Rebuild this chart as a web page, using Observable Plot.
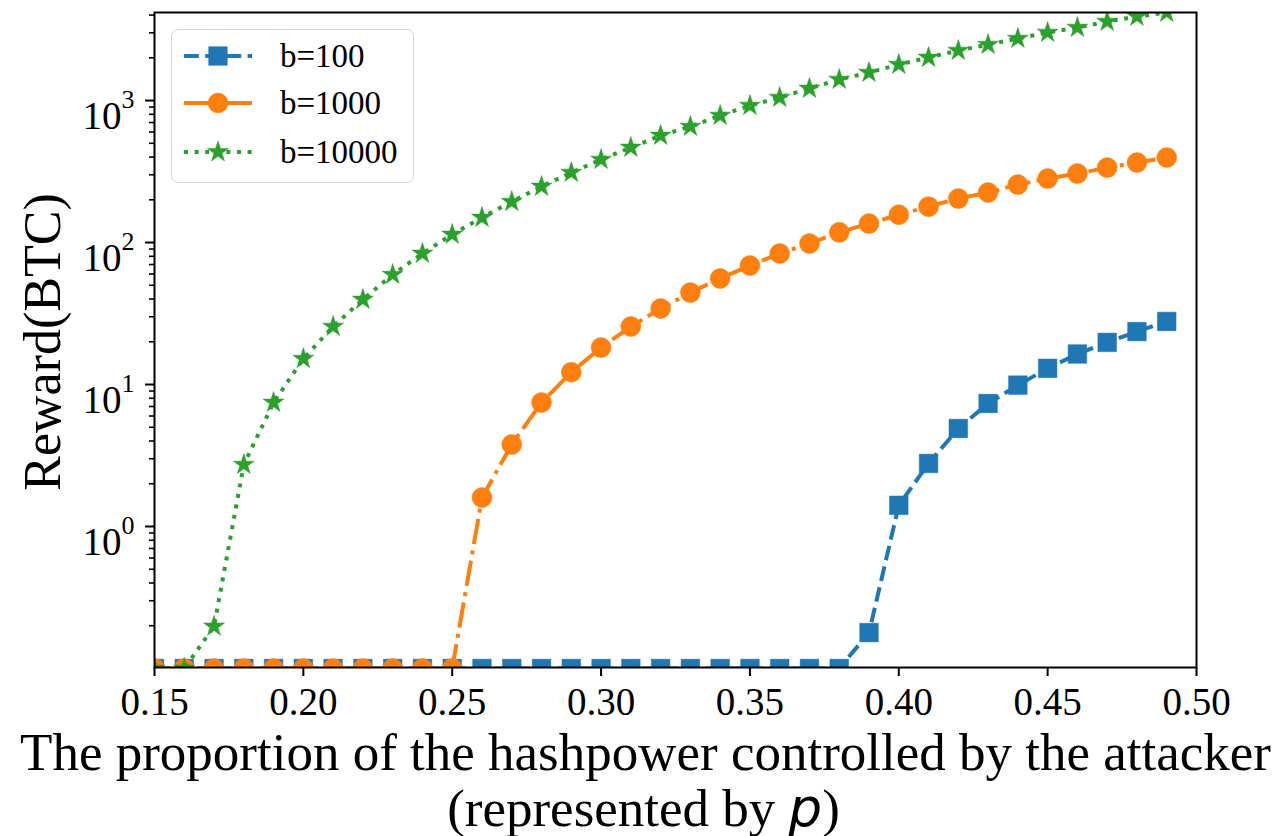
<!DOCTYPE html>
<html>
<head>
<meta charset="utf-8">
<script src="https://cdn.jsdelivr.net/npm/d3@7"></script>
<script src="https://cdn.jsdelivr.net/npm/@observablehq/plot@0.6"></script>
<style>
  html, body { margin: 0; padding: 0; background: #fff; }
  #wrap { position: relative; width: 1279px; height: 836px; }
  #legend { position: absolute; left: 171px; top: 29px; width: 241px; height: 152px;
    border: 1.5px solid #d4d4d4; border-radius: 7px; background: rgba(255,255,255,0.8); }
</style>
</head>
<body>
<div id="wrap"></div>
<script>
// ---- data ----
const p = [0.15,0.16,0.17,0.18,0.19,0.20,0.21,0.22,0.23,0.24,0.25,0.26,0.27,0.28,0.29,0.30,0.31,0.32,0.33,0.34,0.35,0.36,0.37,0.38,0.39,0.40,0.41,0.42,0.43,0.44,0.45,0.46,0.47,0.48,0.49];
// values at the floor of the log axis are drawn at 0.1
const b100 = [0.1,0.1,0.1,0.1,0.1,0.1,0.1,0.1,0.1,0.1,0.1,0.1,0.1,0.1,0.1,0.1,0.1,0.1,0.1,0.1,0.1,0.1,0.1,0.1,
  0.179,1.41,2.78,4.90,7.35,9.9,13.0,16.4,19.8,23.6,27.8];
const b1000 = [0.1,0.1,0.1,0.1,0.1,0.1,0.1,0.1,0.1,0.1,0.1,
  1.60,3.78,7.47,12.2,18.2,25.6,34.3,44.4,55.8,68.9,83.7,98.4,118,136,157,179,204,225,256,282,306,337,366,397];
const b10000 = [0.1,0.1,
  0.198,2.73,7.47,15.2,25.6,39.7,59.5,83.7,114,150,194,248,311,384,467,567,656,784,922,1050,1216,1406,1575,1793,2009,2249,2478,2733,3013,3266,3599,3906,4165];
const seriesNames = ["b=100", "b=1000", "b=10000"];
const xTicks = [0.15,0.20,0.25,0.30,0.35,0.40,0.45,0.50];
const yMajor = [1,10,100,1000];
const xLabelLines = ["The proportion of the hashpower controlled by the attacker", "(represented by p)"];
const yLabel = "Reward(BTC)";

// ---- styles ----
const colors = ["#1f77b4", "#ff7f0e", "#2ca02c"];
const dashes = ["14.8,6.4", "25.6,6.4,4,6.4", "4,6.6"];
const symbols = ["square", "circle", "star"];
const radii = [10.5, 10, 6.6];
const yDomain = [0.1016, 4170];

const yMinor = [];
for (let k = -1; k <= 3; k++) for (let m = 2; m <= 9; m++) {
  const v = m * Math.pow(10, k);
  if (v >= yDomain[0] && v <= yDomain[1]) yMinor.push(v);
}

const rows = vals => p.map((x, i) => ({p: x, v: vals[i]}));
const sets = [rows(b100), rows(b1000), rows(b10000)];

const seriesMarks = [];
sets.forEach((data, i) => {
  seriesMarks.push(Plot.line(data, {x: "p", y: "v", stroke: colors[i], strokeWidth: 4,
    strokeDasharray: dashes[i], strokeLinecap: "butt", strokeLinejoin: "round", clip: true}));
  seriesMarks.push(Plot.dot(data, {x: "p", y: "v", symbol: symbols[i], r: radii[i],
    fill: colors[i], stroke: colors[i], strokeWidth: 0.5, clip: true}));
});

const chart = Plot.plot({
  width: 1279,
  height: 836,
  marginLeft: 154,
  marginRight: 83,
  marginTop: 12,
  marginBottom: 169,
  style: {fontFamily: "Liberation Serif", fontSize: "39px", color: "black", background: "white"},
  x: {domain: [0.15, 0.50]},
  y: {type: "log", domain: yDomain},
  marks: [
    ...seriesMarks,
    Plot.axisX({ticks: xTicks, tickFormat: d3.format(".2f"), tickSize: 9, tickPadding: 11,
      strokeWidth: 2, label: null}),
    Plot.axisY({ticks: yMajor, tickFormat: d => "10^" + Math.round(Math.log10(d)), tickSize: 9,
      tickPadding: 11, strokeWidth: 2, label: null}),
    Plot.axisY({ticks: yMinor, tickFormat: () => "", tickSize: 5, strokeWidth: 1.6, label: null}),
    Plot.frame({stroke: "black", strokeWidth: 2}),
    Plot.text([xLabelLines[0]], {frameAnchor: "bottom", lineAnchor: "bottom", dy: 102, dx: -30,
      fontSize: 53, fontFamily: "Liberation Serif", fill: "black"}),
    Plot.text([xLabelLines[1]], {frameAnchor: "bottom", lineAnchor: "bottom", dy: 158, dx: -32,
      fontSize: 53, fontFamily: "Liberation Serif", fill: "black"}),
    Plot.text([yLabel], {frameAnchor: "left", lineAnchor: "middle", textAnchor: "middle", rotate: -90,
      dx: -111, dy: 2, fontSize: 52, fontFamily: "Liberation Serif", fill: "black"})
  ]
});

// superscript tick labels and italic p
d3.select(chart).selectAll("text").each(function () {
  const t = this.textContent;
  const m = /^10\^(-?\d+)$/.exec(t);
  if (m) {
    const el = d3.select(this);
    el.text("10").attr("dy", "0.42em");
    el.append("tspan").attr("font-size", "26px").attr("dy", "-21px").text(m[1]);
  } else if (t === xLabelLines[1]) {
    const el = d3.select(this);
    el.text("(represented by ");
    el.append("tspan").attr("font-family", "DejaVu Sans").attr("font-style", "italic").text("p");
    el.append("tspan").text(")");
  }
});

const wrap = document.getElementById("wrap");
wrap.appendChild(chart);

// legend
const legend = document.createElement("div");
legend.id = "legend";
wrap.appendChild(legend);
const lsvg = d3.select(legend).append("svg").attr("width", 241).attr("height", 152)
  .style("position", "absolute").style("left", "0px").style("top", "0px");
const rowY = [26, 73, 122];
seriesNames.forEach((name, i) => {
  const g = lsvg.append("g").attr("transform", `translate(0,${rowY[i]})`);
  g.append("line").attr("x1", 12).attr("x2", 80).attr("y1", 0).attr("y2", 0)
    .attr("stroke", colors[i]).attr("stroke-width", 4).attr("stroke-dasharray", dashes[i]);
  const sym = {square: d3.symbolSquare, circle: d3.symbolCircle, star: d3.symbolStar}[symbols[i]];
  g.append("path").attr("transform", "translate(46,0)")
    .attr("d", d3.symbol(sym, radii[i] * radii[i] * Math.PI)())
    .attr("fill", colors[i]).attr("stroke", colors[i]).attr("stroke-width", 0.5);
  g.append("text").attr("x", 108).attr("y", 0).attr("dy", "0.32em")
    .attr("font-family", "Liberation Serif").attr("font-size", 33).attr("fill", "black").text(name);
});
</script>
</body>
</html>
